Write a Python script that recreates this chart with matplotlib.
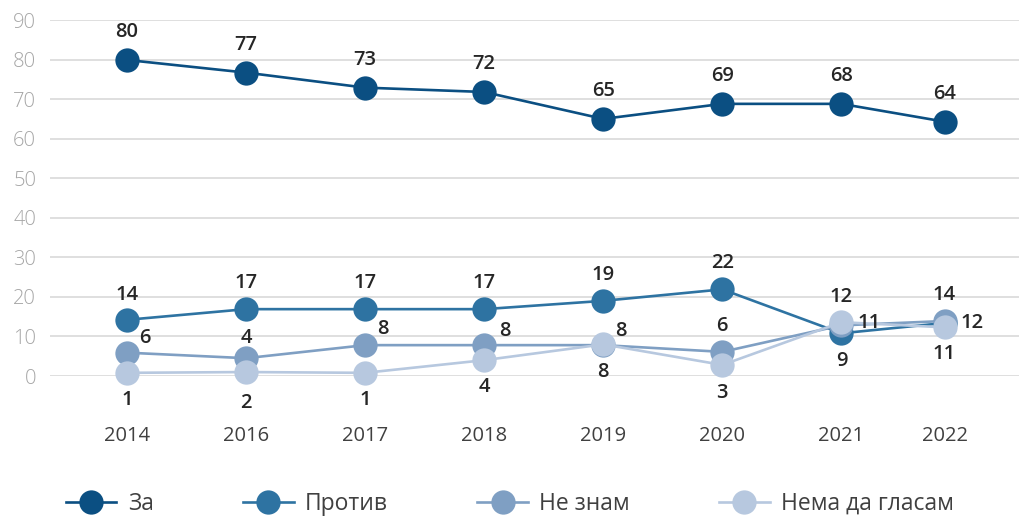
import matplotlib
matplotlib.use("Agg")
import matplotlib.pyplot as plt
from matplotlib.lines import Line2D

plt.rcParams['font.family'] = ['Open Sans', 'DejaVu Sans']

# ---------------- data ----------------
years = ["2014", "2016", "2017", "2018", "2019", "2020", "2021", "2022"]
series_names = ["За", "Против", "Не знам", "Нема да гласам"]

za_values = [79.9, 76.7, 72.9, 71.8, 65.0, 68.8, 68.8, 64.3]
protiv_values = [14.2, 16.9, 16.9, 16.9, 19.0, 21.9, 10.8, 13.4]
neznam_values = [5.9, 4.5, 7.8, 7.8, 7.8, 6.1, 12.8, 13.9]
nema_values = [0.8, 1.0, 0.8, 4.0, 8.0, 2.8, 13.6, 12.3]

za_labels = ["80", "77", "73", "72", "65", "69", "68", "64"]
protiv_labels = ["14", "17", "17", "17", "19", "22", "9", "14"]
neznam_labels = ["6", "4", "8", "8", "8", "6", "11", "12"]
nema_labels = ["1", "2", "1", "4", "8", "3", "12", "11"]

# ---------------- layout / style ----------------
x_pos = [0, 1, 2, 3, 4, 5, 6, 6.866]
colors = ["#0b4f82", "#2e73a2", "#7f9fc3", "#b7c8df"]

za_off = [(0, 28)] * 8
protiv_off = [(0, 25), (0, 26), (0, 26), (0, 26), (0, 26), (0, 26), (0, -28), (0, 28)]
neznam_off = [(18, 15), (0, 20), (18, 16), (21, 14), (18, 14), (0, 26), (28, 2), (28, -2)]
nema_off = [(0, -27), (0, -31), (0, -27), (0, -27), (0, -28), (0, -28), (0, 25), (0, -27)]

fig = plt.figure(figsize=(10.2, 5.17), dpi=100)
ax = fig.add_axes([50 / 1020, (517 - 376) / 517, (1020 - 50) / 1020, (376 - 20) / 517])

values = [za_values, protiv_values, neznam_values, nema_values]
labels = [za_labels, protiv_labels, neznam_labels, nema_labels]
offsets = [za_off, protiv_off, neznam_off, nema_off]

for i, (vals, col) in enumerate(zip(values, colors)):
    ax.plot(x_pos, vals, color=col, lw=1.9, marker='o', markersize=17.5,
            markeredgewidth=0, clip_on=False, zorder=3 + i)

for vals, labs, offs in zip(values, labels, offsets):
    for x, v, lab, (dx, dy) in zip(x_pos, vals, labs, offs):
        ax.annotate(lab, (x, v), xytext=(dx, dy), textcoords='offset pixels',
                    ha='center', va='center', fontsize=14.5, fontweight='semibold',
                    color='#262626', zorder=10, annotation_clip=False)

ax.set_ylim(0, 90)
ax.set_yticks(range(0, 91, 10))
ax.set_xlim(-77 / 119.2, 7.50)
ax.set_xticks(x_pos, labels=years)
ax.yaxis.grid(True, color='#d9d9d9', lw=1.2)
ax.set_axisbelow(True)
for s in ax.spines.values():
    s.set_visible(False)
ax.tick_params(axis='x', length=0, pad=36, labelsize=14.5, labelcolor='#404040')
ax.tick_params(axis='y', length=0, pad=10, labelsize=14.5, labelcolor='#a6a6a6')
for t in ax.get_yticklabels():
    t.set_fontweight('light')

handles = [Line2D([], [], color=c, lw=1.9, marker='o', markersize=17.5, markeredgewidth=0)
           for c in colors]
fig.legend(handles, series_names, loc='center', bbox_to_anchor=(0.5, 13 / 517), ncol=4,
           frameon=False, fontsize=16.5, handlelength=2.2, handletextpad=0.5,
           columnspacing=3.9, labelcolor='#404040')

fig.savefig("out.png", dpi=100)
